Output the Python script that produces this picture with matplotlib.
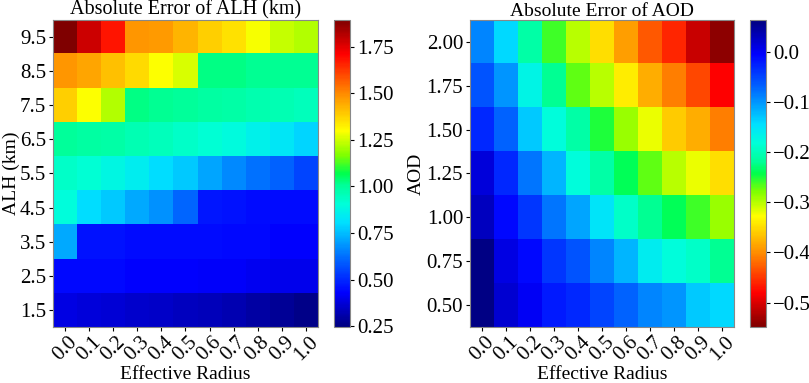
import matplotlib
matplotlib.use("Agg")
import matplotlib.pyplot as plt
from matplotlib.colors import LinearSegmentedColormap
import numpy as np

plt.rcParams['font.family'] = ['Liberation Serif', 'DejaVu Serif']
plt.rcParams['font.size'] = 15

radius = ['0.0', '0.1', '0.2', '0.3', '0.4', '0.5', '0.6', '0.7', '0.8', '0.9', '1.0']
alh_labels = ['1.5', '2.5', '3.5', '4.5', '5.5', '6.5', '7.5', '8.5', '9.5']
aod_labels = ['0.50', '0.75', '1.00', '1.25', '1.50', '1.75', '2.00']

# absolute error of ALH (km), rows from ALH 1.5 (bottom) to 9.5 (top)
alh_err = [
    [0.39, 0.38, 0.37, 0.36, 0.35, 0.34, 0.33, 0.32, 0.30, 0.28, 0.26],
    [0.44, 0.44, 0.44, 0.43, 0.43, 0.43, 0.42, 0.42, 0.41, 0.40, 0.40],
    [0.72, 0.46, 0.46, 0.45, 0.45, 0.45, 0.45, 0.44, 0.44, 0.43, 0.43],
    [0.90, 0.80, 0.77, 0.72, 0.68, 0.61, 0.47, 0.46, 0.45, 0.45, 0.45],
    [0.93, 0.91, 0.88, 0.85, 0.80, 0.77, 0.71, 0.67, 0.63, 0.60, 0.55],
    [1.00, 0.99, 0.98, 0.96, 0.95, 0.93, 0.91, 0.89, 0.86, 0.83, 0.79],
    [1.38, 1.30, 1.22, 1.02, 1.01, 1.00, 0.99, 0.98, 0.97, 0.96, 0.95],
    [1.48, 1.45, 1.41, 1.36, 1.30, 1.26, 1.02, 1.02, 1.01, 1.01, 1.01],
    [1.89, 1.78, 1.68, 1.48, 1.47, 1.43, 1.38, 1.35, 1.29, 1.24, 1.22],
]

# absolute error of AOD, rows from AOD 0.50 (bottom) to 2.00 (top)
aod_err = [
    [0.06, 0.02, 0.00, -0.02, -0.03, -0.05, -0.07, -0.09, -0.10, -0.13, -0.14],
    [0.06, 0.01, -0.01, -0.04, -0.06, -0.09, -0.12, -0.16, -0.18, -0.19, -0.22],
    [0.03, -0.01, -0.04, -0.08, -0.11, -0.15, -0.19, -0.22, -0.24, -0.26, -0.29],
    [0.015, -0.03, -0.08, -0.12, -0.18, -0.21, -0.24, -0.27, -0.30, -0.32, -0.35],
    [-0.03, -0.07, -0.13, -0.18, -0.21, -0.25, -0.29, -0.32, -0.36, -0.38, -0.41],
    [-0.06, -0.10, -0.17, -0.22, -0.27, -0.30, -0.34, -0.38, -0.41, -0.44, -0.48],
    [-0.09, -0.14, -0.21, -0.26, -0.30, -0.35, -0.39, -0.43, -0.46, -0.51, -0.54],
]

# a more saturated jet, as in the figure
jet2 = LinearSegmentedColormap.from_list('jet2', [
    (0.00, (0.0, 0.0, 0.5)),
    (0.11, (0.0, 0.0, 1.0)),
    (0.22, (0.0, 0.4, 1.0)),
    (0.34, (0.0, 0.88, 1.0)),
    (0.40, (0.0, 1.0, 0.85)),
    (0.46, (0.0, 1.0, 0.6)),
    (0.50, (0.0, 1.0, 0.3)),
    (0.56, (0.5, 1.0, 0.0)),
    (0.64, (1.0, 1.0, 0.0)),
    (0.76, (1.0, 0.55, 0.0)),
    (0.89, (1.0, 0.0, 0.0)),
    (1.00, (0.5, 0.0, 0.0)),
])

fig = plt.figure(figsize=(8.09, 3.83), dpi=100)

ax1 = fig.add_axes([0.0655, 0.146, 0.3275, 0.802])
cax1 = fig.add_axes([0.413, 0.146, 0.020, 0.802])
ax2 = fig.add_axes([0.581, 0.146, 0.326, 0.802])
cax2 = fig.add_axes([0.927, 0.146, 0.020, 0.802])

im1 = ax1.imshow(np.array(alh_err), cmap=jet2, origin='lower', aspect='auto',
                 vmin=0.245, vmax=1.894, interpolation='nearest')
ax1.set_xticks(range(len(radius)))
ax1.set_xticklabels(radius, rotation=45)
ax1.set_yticks(range(len(alh_labels)))
ax1.set_yticklabels(alh_labels)
ax1.set_xlabel('Effective Radius', fontsize=14)
ax1.xaxis.set_label_coords(0.5, -0.128)
ax1.set_ylabel('ALH (km)', fontsize=14)
ax1.yaxis.set_label_coords(-0.125, 0.5)
ax1.set_title('Absolute Error of ALH (km)', fontsize=14.5, pad=3)
cb1 = fig.colorbar(im1, cax=cax1)
cb1.set_ticks([0.25, 0.5, 0.75, 1.0, 1.25, 1.5, 1.75])
cb1.set_ticklabels(['0.25', '0.50', '0.75', '1.00', '1.25', '1.50', '1.75'])

im2 = ax2.imshow(np.array(aod_err), cmap=jet2.reversed(), origin='lower', aspect='auto',
                 vmin=-0.549, vmax=0.064, interpolation='nearest')
ax2.set_xticks(range(len(radius)))
ax2.set_xticklabels(radius, rotation=45)
ax2.set_yticks(range(len(aod_labels)))
ax2.set_yticklabels(aod_labels)
ax2.set_xlabel('Effective Radius', fontsize=14)
ax2.xaxis.set_label_coords(0.5, -0.128)
ax2.set_ylabel('AOD', fontsize=14)
ax2.yaxis.set_label_coords(-0.17, 0.5)
ax2.set_title('Absolute Error of AOD', fontsize=14, pad=3)
cb2 = fig.colorbar(im2, cax=cax2)
cb2.set_ticks([0.0, -0.1, -0.2, -0.3, -0.4, -0.5])

for a in (ax1, ax2):
    a.tick_params(axis='x', length=3, pad=1)
    a.tick_params(axis='y', length=3, pad=2)
    for s in a.spines.values():
        s.set_color('#888888')
for cb in (cb1, cb2):
    cb.ax.tick_params(length=3, pad=2)
    cb.outline.set_edgecolor('#888888')

fig.savefig('out.png', dpi=100)
